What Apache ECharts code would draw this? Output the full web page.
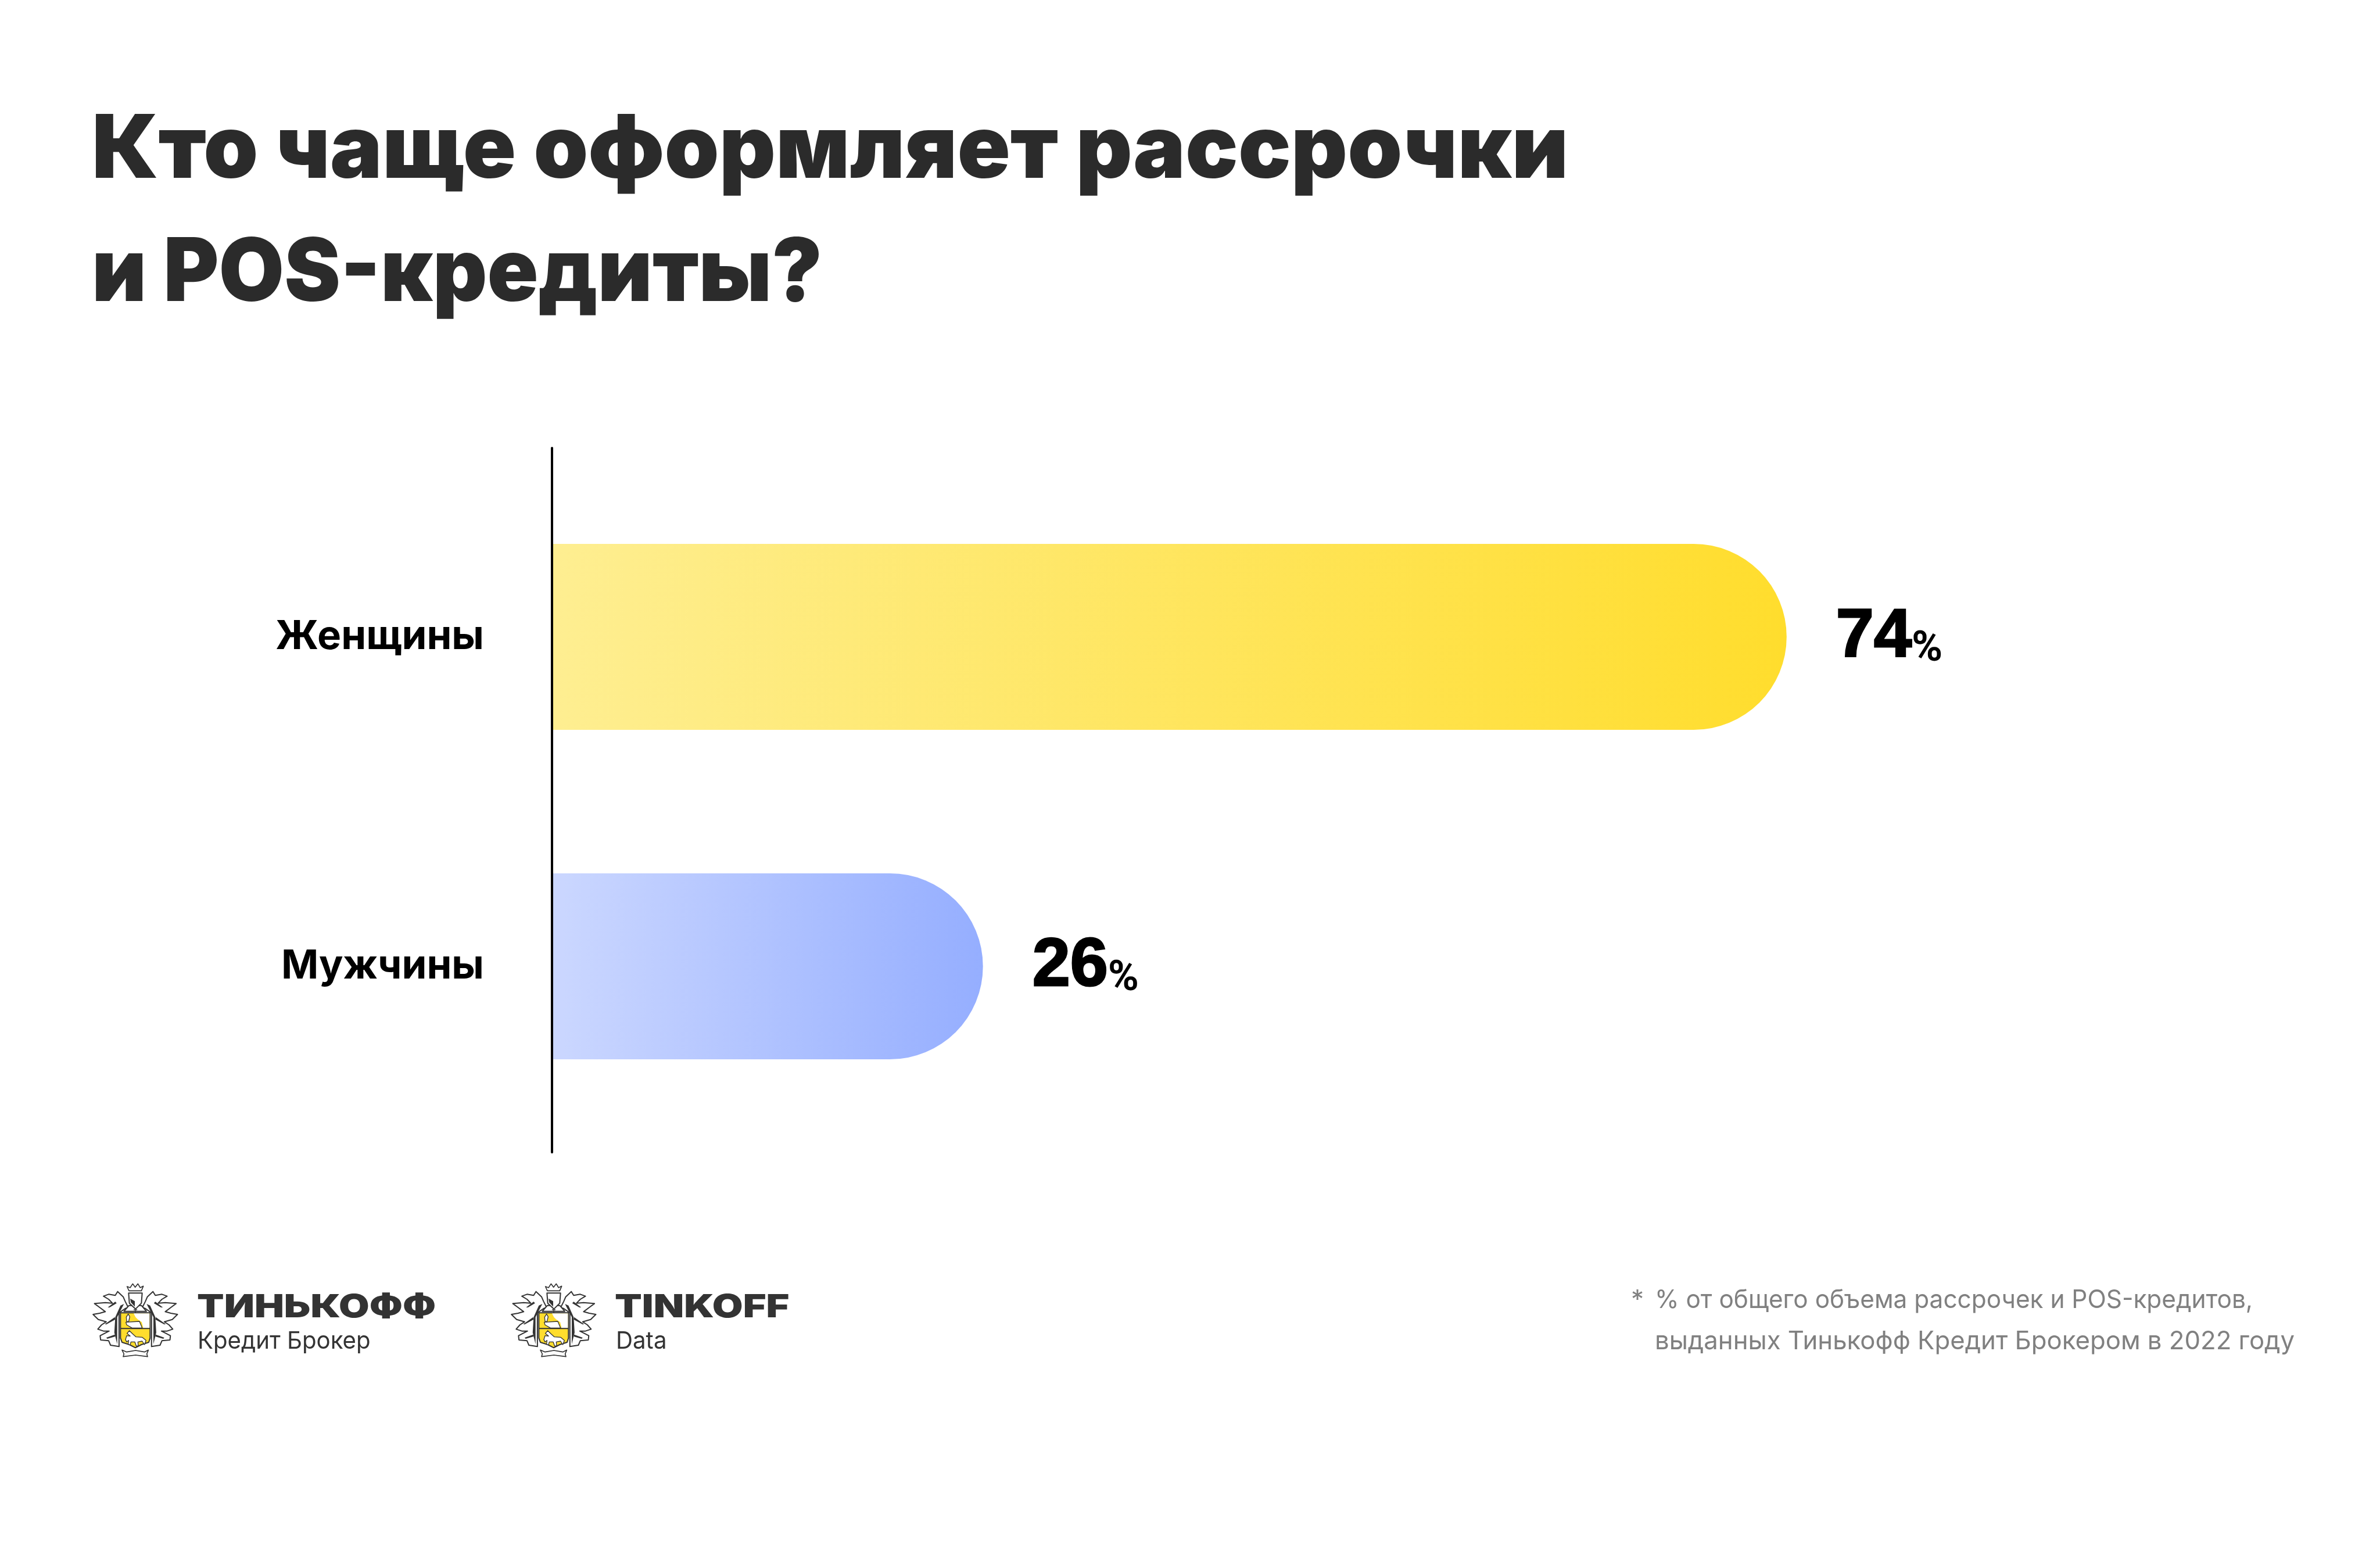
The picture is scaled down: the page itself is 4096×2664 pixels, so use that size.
<!DOCTYPE html>
<html><head><meta charset="utf-8">
<style>html,body{margin:0;padding:0;background:#fff}#c{width:4096px;height:2664px}</style>
<script src="https://cdn.jsdelivr.net/npm/echarts@6/dist/echarts.min.js"></script>
</head><body><div id="c"></div>
<script>
const categories = ['Женщины', 'Мужчины'];
const shares = [74, 26];
const titleLines = ['Кто чаще оформляет рассрочки', 'и POS-кредиты?'];
const footnoteLines = ['% от общего объема рассрочек и POS-кредитов,', 'выданных Тинькофф Кредит Брокером в 2022 году'];
const gradients = [['#FEEE91', '#FFDD2D'], ['#CBD7FF', '#95AEFF']];

const chart = echarts.init(document.getElementById('c'), null, {renderer: 'canvas', width: 4096, height: 2664});
const F = 'Inter, "Noto Sans", sans-serif';
const R = 'Roboto, Inter, sans-serif';
const L = '"Liberation Sans", Inter, sans-serif';
const DARK = '#333333';

function txt(text, x, y, size, weight, fill, scaleX) {
  return {type: 'text', x, y, scaleX: scaleX || 1, silent: true,
    style: {text, fill, font: weight + ' ' + size + 'px ' + F, textAlign: 'left', textVerticalAlign: 'bottom'}};
}
function poly(points, fill, lw, smooth) {
  return {type: 'polygon', shape: {points, smooth: smooth || 0},
    style: {fill, stroke: lw ? DARK : 'none', lineWidth: lw || 0, lineJoin: 'round'}};
}
const spread = p => [p[0] < 172 ? 172 - (172 - p[0]) * 1.22 : p[0], p[1]];
const wing = [[212,150],[196,118],[186,95],[160,68],[150,88],[122,82],[100,92],[122,108],[138,128],[108,125],[62,130],[84,150],[108,172],[84,180],[56,186],[78,212],[112,224],[92,240],[76,262],[100,272],[124,272],[86,296],[88,318],[122,322],[130,345],[166,352],[166,178],[196,156]].map(spread);
const wingInner = [[190,132],[172,140],[150,200],[146,280],[158,340],[158,200]].map(spread);
const vein1 = [[150,120],[118,150],[126,150],[156,128]].map(spread);
const vein2 = [[148,200],[106,236],[112,238],[150,212]].map(spread);
const vein3 = [[148,290],[112,306],[116,312],[150,300]].map(spread);
function crest(x, y) {
  const parts = () => [poly(wing, '#fff', 6), poly(wingInner, DARK, 0), poly(vein1, DARK, 0), poly(vein2, DARK, 0), poly(vein3, DARK, 0)];
  return {type: 'group', x, y, scaleX: 1/3, scaleY: 1/3, silent: true, children: [
    {type: 'group', children: parts()},
    {type: 'group', x: 497, scaleX: -1, children: parts()},
    poly([[206,42],[222,48],[235,28],[248,46],[262,28],[274,48],[290,40],[280,64],[216,64]], '#fff', 5),
    poly([[190,170],[216,140],[280,140],[306,170]], '#fff', 6),
    poly([[214,76],[284,76],[280,128],[250,158],[218,128]], '#fff', 6),
    poly([[222,104],[246,118],[246,146],[226,124]], DARK, 0),
    poly([[240,160],[258,160],[258,164],[251,164],[251,178],[247,178],[247,164],[240,164]], DARK, 0),
    poly([[172,178],[325,178],[325,308],[318,330],[280,342],[249,358],[218,342],[180,330],[172,308]], '#FFDD2D', 6),
    poly([[240,181],[322,181],[322,257],[290,257],[282,226],[262,212],[250,200]], '#fff', 0),
    poly([[200,226],[270,222],[284,256],[232,256],[204,240]], '#fff', 4),
    poly([[204,222],[202,200],[212,184],[220,198],[214,224]], '#fff', 4),
    {type: 'line', shape: {x1: 172, y1: 259, x2: 325, y2: 259}, style: {stroke: DARK, lineWidth: 6}},
    poly([[198,316],[204,296],[222,298],[206,284],[218,270],[234,286],[252,302],[284,304],[304,320],[296,342],[284,324],[262,328],[264,348],[254,350],[246,328],[226,328],[222,344],[212,340],[214,320],[204,328]], '#fff', 4),
    poly([[180,370],[204,380],[250,372],[296,380],[316,370],[308,390],[312,404],[250,396],[186,404],[190,390]], '#fff', 5)
  ]};
}
const graphics = [
  txt(titleLines[0], 158, 336, 151, 900, '#2B2B2B', 0.998),
  txt(titleLines[1], 158, 548, 151, 900, '#2B2B2B', 0.962),
  crest(150, 2200), crest(870, 2200),
  txt('ТИНЬКОФФ', 339, 2278, 55, 900, DARK, 1.235),
  txt('Кредит Брокер', 340, 2329, 41, 400, DARK, 0.98),
  txt('TINKOFF', 1058, 2278, 55, 900, DARK, 1.24),
  txt('Data', 1060, 2329, 41, 400, DARK, 0.98),
  txt('*', 2807, 2260, 44, 400, '#808080', 1),
  txt(footnoteLines[0], 2848, 2260, 44, 400, '#808080', 0.962),
  txt(footnoteLines[1], 2848, 2331, 44, 400, '#808080', 0.993)
];

chart.setOption({
  animation: false,
  backgroundColor: '#ffffff',
  grid: [
    {left: 952, top: 812.5, width: 2872, height: 1134, containLabel: false},
    {left: 950, top: 771, width: 10, height: 1212, containLabel: false}
  ],
  xAxis: [
    {type: 'value', gridIndex: 0, min: 0.33, max: 100, show: false},
    {type: 'value', gridIndex: 1, show: false}
  ],
  yAxis: [
    {type: 'category', gridIndex: 0, data: categories, inverse: true,
      axisLine: {show: false}, axisTick: {show: false},
      axisLabel: {margin: 119, fontFamily: F, fontSize: 69, fontWeight: 700, color: '#000', align: 'right'}},
    {type: 'category', gridIndex: 1, data: [''], axisTick: {show: false}, axisLabel: {show: false},
      axisLine: {show: true, lineStyle: {color: '#000', width: 4}}}
  ],
  series: [{
    type: 'bar', xAxisIndex: 0, yAxisIndex: 0, barWidth: 320,
    data: shares.map((v, i) => ({value: v, itemStyle: {
      borderRadius: [0, 160, 160, 0],
      color: new echarts.graphic.LinearGradient(0, 0, 1, 0, [
        {offset: 0, color: gradients[i][0]}, {offset: 1, color: gradients[i][1]}])
    }})),
    label: {show: true, position: 'right', distance: 85, offset: [0, -1],
      formatter: p => '{n|' + p.value + '}{p|%}',
      rich: {
        n: {fontFamily: L, fontSize: 117, fontWeight: 700, color: '#000', lineHeight: 120, verticalAlign: 'bottom', textBorderColor: '#000', textBorderWidth: 3},
        p: {fontFamily: R, fontSize: 72, fontWeight: 700, color: '#000', lineHeight: 120, verticalAlign: 'bottom'}
      }}
  }],
  graphic: {elements: graphics}
});
</script></body></html>
